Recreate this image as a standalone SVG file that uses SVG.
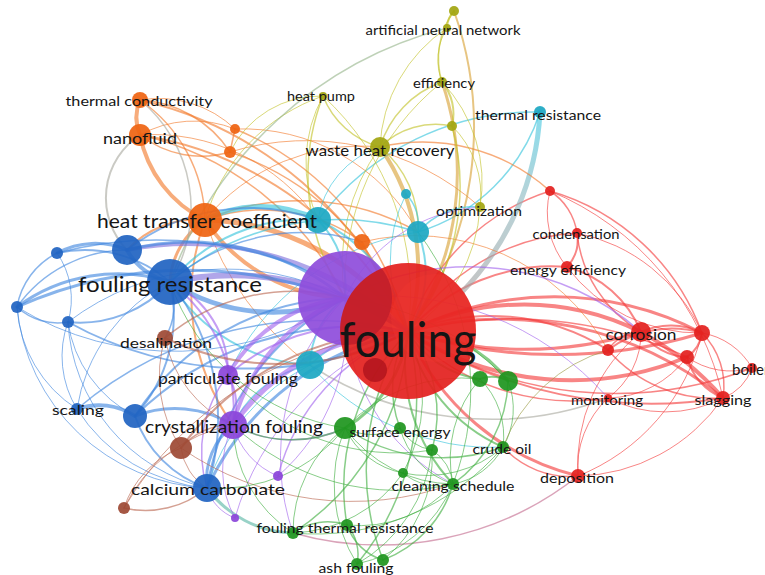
<svg xmlns="http://www.w3.org/2000/svg" width="765" height="575" viewBox="0 0 765 575">
<style>
#connectors path{fill:none;stroke-linecap:round;stroke-opacity:.62}
.r{stroke:#f43a3a}.b{stroke:#3f86de}.o{stroke:#f2792a}.p{stroke:#a263ee}.c{stroke:#33c3dc}.g{stroke:#3fae3f}.y{stroke:#c2c226}.br{stroke:#b9654f}.gr{stroke:#a9a9a0}.bp{stroke:#7f6fdc}.yo{stroke:#d9a135}.tl{stroke:#58b6a4}.pk{stroke:#c46a8e}.ol{stroke:#9a9a40}.gy{stroke:#96b48a}
text{font-family:Lato,"Open Sans","Liberation Sans",sans-serif;fill:#151515}
.nr{fill:#e3211f}.nb{fill:#2164c2}.no{fill:#ef6412}.np{fill:#8b46d9}.nc{fill:#1ea8c3}.ng{fill:#1f961f}.ny{fill:#a3a612}.nbr{fill:#9e4a36}
circle{fill-opacity:.93}
</style>
<defs>
<clipPath id="fclip"><circle cx="408" cy="331" r="68"/></clipPath>
<linearGradient id="trg" gradientUnits="userSpaceOnUse" x1="540" y1="112" x2="470" y2="290"><stop offset="0" stop-color="#3fc8e2"/><stop offset=".45" stop-color="#8bb8c0"/><stop offset="1" stop-color="#a0a0a0"/></linearGradient>
</defs>
<rect width="765" height="575" fill="#fff"/>
<g id="connectors">
<path class="r" stroke-width="4" d="M408 332A260 260 0 0 1 641 332"/>
<path class="r" stroke-width="3" d="M408 332A320 320 0 0 1 702 333"/>
<path class="r" stroke-width="4" d="M408 332A300 300 0 0 0 687 357"/>
<path class="r" stroke-width="3" d="M408 332A350 350 0 0 1 723 398"/>
<path class="r" stroke-width="3" d="M408 332A250 250 0 0 0 578 476"/>
<path class="r" stroke-width="2" d="M408 332A220 220 0 0 1 608 350"/>
<path class="r" stroke-width="1.5" d="M408 332A230 230 0 0 0 608 398"/>
<path class="r" stroke-width="2" d="M408 332A190 190 0 0 1 567 267"/>
<path class="r" stroke-width="1.5" d="M408 332A215 215 0 0 1 577 233"/>
<path class="r" stroke-width="1.5" d="M408 332A220 220 0 0 1 550 191"/>
<path class="r" stroke-width="1.5" d="M408 332A380 380 0 0 0 752 368"/>
<path class="r" stroke-width="3" d="M408 332A400 400 0 0 0 641 332"/>
<path class="r" stroke-width="3" d="M408 332A500 500 0 0 0 702 333"/>
<path class="r" stroke-width="2" d="M408 332A450 450 0 0 0 723 398"/>
<path class="r" stroke-width="1.5" d="M408 332A420 420 0 0 1 687 357"/>
<path class="r" stroke-width="1.5" d="M550 191A60 60 0 0 1 577 233"/>
<path class="r" stroke-width="2" d="M577 233A40 40 0 0 1 567 267"/>
<path class="r" stroke-width="1" d="M550 191A85 85 0 0 0 567 267"/>
<path class="r" stroke-width="1.5" d="M550 191A230 230 0 0 1 702 333"/>
<path class="r" stroke-width="1" d="M577 233A175 175 0 0 1 702 333"/>
<path class="r" stroke-width="1.5" d="M577 233A130 130 0 0 0 641 332"/>
<path class="r" stroke-width="2" d="M567 267A110 110 0 0 1 641 332"/>
<path class="r" stroke-width="1" d="M567 267A165 165 0 0 0 702 333"/>
<path class="r" stroke-width="1" d="M550 191A290 290 0 0 1 723 398"/>
<path class="r" stroke-width="2" d="M641 332A70 70 0 0 1 702 333"/>
<path class="r" stroke-width="4" d="M641 332A300 300 0 0 1 723 398"/>
<path class="r" stroke-width="2" d="M641 332A60 60 0 0 0 687 357"/>
<path class="r" stroke-width="2" d="M702 333A35 35 0 0 1 687 357"/>
<path class="r" stroke-width="1" d="M702 333A70 70 0 0 1 752 368"/>
<path class="r" stroke-width="1.5" d="M702 333A75 75 0 0 1 723 398"/>
<path class="r" stroke-width="2" d="M687 357A60 60 0 0 0 723 398"/>
<path class="r" stroke-width="1" d="M687 357A75 75 0 0 0 752 368"/>
<path class="r" stroke-width="1" d="M752 368A50 50 0 0 1 723 398"/>
<path class="r" stroke-width="2" d="M608 350A105 105 0 0 1 702 333"/>
<path class="r" stroke-width="1.5" d="M608 350A140 140 0 0 0 723 398"/>
<path class="r" stroke-width="1" d="M608 398A125 125 0 0 0 723 398"/>
<path class="r" stroke-width="1" d="M608 398A95 95 0 0 0 578 476"/>
<path class="r" stroke-width="1" d="M578 476A180 180 0 0 0 723 398"/>
<path class="r" stroke-width="1" d="M578 476A205 205 0 0 0 702 333"/>
<path class="r" stroke-width="1" d="M578 476A170 170 0 0 1 641 332"/>
<path class="r" stroke-width="1.5" d="M608 350A40 40 0 0 1 641 332"/>
<path class="r" stroke-width="1" d="M608 398A80 80 0 0 0 641 332"/>
<path class="r" stroke-width="1" d="M608 398A100 100 0 0 0 687 357"/>
<path class="r" stroke-width="1.5" d="M503 447A90 90 0 0 0 578 476"/>
<path stroke="url(#trg)" stroke-opacity=".8" stroke-width="5" d="M540 112A280 280 0 0 1 462 292"/>
<path class="c" stroke-width="1.5" d="M540 112A185 185 0 0 1 418 232"/>
<path class="c" stroke-width="1.5" d="M540 112A270 270 0 0 0 318 220"/>
<path class="gr" stroke-width="1.5" d="M310 365A330 330 0 0 0 608 398"/>
<path class="pk" stroke-width="1.5" d="M293 533A320 320 0 0 0 578 476"/>
<path class="o" stroke-width="4" d="M140 135A120 120 0 0 0 205 220"/>
<path class="o" stroke-width="1.5" d="M140 100A150 150 0 0 1 205 220"/>
<path class="o" stroke-width="4" d="M140 100A45 45 0 0 0 140 135"/>
<path class="o" stroke-width="1" d="M140 135A110 110 0 0 1 235 129"/>
<path class="o" stroke-width="1.5" d="M140 135A100 100 0 0 0 230 152"/>
<path class="o" stroke-width="1.5" d="M140 100A115 115 0 0 1 230 152"/>
<path class="o" stroke-width="1" d="M140 100A110 110 0 0 1 235 129"/>
<path class="o" stroke-width="5" d="M205 220A250 250 0 0 1 408 332"/>
<path class="o" stroke-width="3" d="M205 220A80 80 0 0 0 170 282"/>
<path class="o" stroke-width="4" d="M205 220A175 175 0 0 0 345 298"/>
<path class="o" stroke-width="1.5" d="M205 220A170 170 0 0 1 362 242"/>
<path class="o" stroke-width="2" d="M205 220A95 95 0 0 0 127 250"/>
<path class="o" stroke-width="2" d="M140 135A360 360 0 0 1 408 332"/>
<path class="o" stroke-width="2" d="M140 100A380 380 0 0 1 408 332"/>
<path class="o" stroke-width="1.5" d="M235 129A290 290 0 0 1 408 332"/>
<path class="o" stroke-width="1.5" d="M230 152A280 280 0 0 1 408 332"/>
<path class="o" stroke-width="1.5" d="M235 129L230 152"/>
<path class="o" stroke-width="2" d="M362 242L408 332"/>
<path class="o" stroke-width="2" d="M205 220A220 220 0 0 0 233 425"/>
<path class="o" stroke-width="1.5" d="M380 147A190 190 0 0 1 550 191"/>
<path class="o" stroke-width="1.5" d="M205 220A240 240 0 0 1 418 232"/>
<path class="o" stroke-width="1" d="M205 220A200 200 0 0 1 380 147"/>
<path class="o" stroke-width="1" d="M235 129A200 200 0 0 1 418 232"/>
<path class="o" stroke-width="1" d="M230 152A260 260 0 0 1 480 207"/>
<path class="o" stroke-width="1" d="M140 135A200 200 0 0 1 318 220"/>
<path class="o" stroke-width="1.5" d="M140 135A300 300 0 0 1 345 298"/>
<path class="o" stroke-width="1" d="M362 242A220 220 0 0 1 608 350"/>
<path class="o" stroke-width="1" d="M205 220A300 300 0 0 0 310 365"/>
<path class="gr" stroke-width="2" d="M140 135A75 75 0 0 0 127 250"/>
<path class="gr" stroke-width="1.5" d="M140 100A140 140 0 0 1 170 282"/>
<path class="y" stroke-width="1" d="M323 96A185 185 0 0 0 205 220"/>
<path class="y" stroke-width="1.5" d="M380 147A85 85 0 0 1 323 96"/>
<path class="y" stroke-width="1.5" d="M380 147A100 100 0 0 1 442 82"/>
<path class="y" stroke-width="1.5" d="M380 147A80 80 0 0 1 452 126"/>
<path class="yo" stroke-width="4" d="M380 147A210 210 0 0 1 408 332"/>
<path class="y" stroke-width="1.5" d="M380 147A105 105 0 0 1 418 232"/>
<path class="y" stroke-width="1" d="M323 96A270 270 0 0 1 408 332"/>
<path class="y" stroke-width="1.5" d="M323 96A220 220 0 0 0 345 298"/>
<path class="y" stroke-width="1" d="M323 96A140 140 0 0 0 318 220"/>
<path class="y" stroke-width="1" d="M323 96A100 100 0 0 0 230 152"/>
<path class="y" stroke-width="1.5" d="M442 82A80 80 0 0 1 454 11"/>
<path class="y" stroke-width="1" d="M442 82A60 60 0 0 1 447 28"/>
<path class="y" stroke-width="2" d="M454 11A25 25 0 0 0 447 28"/>
<path class="yo" stroke-width="3" d="M442 82A280 280 0 0 1 408 332"/>
<path class="yo" stroke-width="2" d="M454 11A350 350 0 0 1 408 332"/>
<path class="y" stroke-width="1.5" d="M452 126A230 230 0 0 1 408 332"/>
<path class="y" stroke-width="1" d="M452 126A95 95 0 0 1 480 207"/>
<path class="y" stroke-width="1" d="M442 82A145 145 0 0 1 480 207"/>
<path class="y" stroke-width="2" d="M442 82A50 50 0 0 1 452 126"/>
<path class="y" stroke-width="1" d="M442 82A260 260 0 0 0 345 298"/>
<path class="y" stroke-width="1" d="M480 207A160 160 0 0 1 408 332"/>
<path class="y" stroke-width="1" d="M380 147A200 200 0 0 0 345 298"/>
<path class="gy" stroke-width="1.5" d="M447 28A400 400 0 0 0 170 282"/>
<path class="y" stroke-width="1" d="M447 28A150 150 0 0 0 380 147"/>
<path class="c" stroke-width="2" d="M318 220A160 160 0 0 1 408 332"/>
<path class="c" stroke-width="5" d="M205 220A125 125 0 0 1 318 220"/>
<path class="c" stroke-width="2" d="M318 220A175 175 0 0 0 170 282"/>
<path class="c" stroke-width="2" d="M418 232A110 110 0 0 1 408 332"/>
<path class="c" stroke-width="1.5" d="M418 232A75 75 0 0 1 480 207"/>
<path class="c" stroke-width="1.5" d="M406 194A45 45 0 0 1 418 232"/>
<path class="c" stroke-width="1" d="M406 194A150 150 0 0 0 408 332"/>
<path class="c" stroke-width="2" d="M310 365A115 115 0 0 1 408 332"/>
<path class="c" stroke-width="2" d="M170 282A175 175 0 0 0 310 365"/>
<path class="c" stroke-width="2" d="M310 365A85 85 0 0 1 345 298"/>
<path class="c" stroke-width="1.5" d="M310 365A110 110 0 0 0 233 425"/>
<path class="c" stroke-width="2" d="M318 220A95 95 0 0 1 345 298"/>
<path class="c" stroke-width="1" d="M318 220A90 90 0 0 1 380 147"/>
<path class="c" stroke-width="1.5" d="M170 282A260 260 0 0 1 418 232"/>
<path class="c" stroke-width="1" d="M310 365A200 200 0 0 0 207 488"/>
<path class="c" stroke-width="1" d="M418 232A250 250 0 0 0 228 375"/>
<path class="c" stroke-width="1" d="M310 365A240 240 0 0 0 503 447"/>
<path class="tl" stroke-width="3" d="M207 488A110 110 0 0 0 293 533"/>
<path class="bp" stroke-width="6" d="M170 282A300 300 0 0 1 408 332"/>
<path class="b" stroke-width="5" d="M170 282A190 190 0 0 0 345 298"/>
<path class="b" stroke-width="4" d="M170 282A65 65 0 0 1 127 250"/>
<path class="b" stroke-width="2" d="M170 282A130 130 0 0 0 57 253"/>
<path class="b" stroke-width="3" d="M170 282A170 170 0 0 0 17 307"/>
<path class="b" stroke-width="2" d="M170 282A120 120 0 0 1 68 322"/>
<path class="b" stroke-width="1" d="M170 282A170 170 0 0 0 77 409"/>
<path class="b" stroke-width="2" d="M170 282A150 150 0 0 1 135 416"/>
<path class="b" stroke-width="2" d="M170 282A220 220 0 0 1 207 488"/>
<path class="b" stroke-width="1.5" d="M170 282A65 65 0 0 1 165 338"/>
<path class="b" stroke-width="3" d="M127 250A80 80 0 0 0 57 253"/>
<path class="b" stroke-width="1.5" d="M127 250A135 135 0 0 0 17 307"/>
<path class="bp" stroke-width="4" d="M127 250A320 320 0 0 1 408 332"/>
<path class="b" stroke-width="3" d="M127 250A245 245 0 0 1 345 298"/>
<path class="b" stroke-width="1.5" d="M17 307A60 60 0 0 0 68 322"/>
<path class="b" stroke-width="1" d="M17 307A130 130 0 0 0 77 409"/>
<path class="b" stroke-width="1" d="M68 322A100 100 0 0 0 77 409"/>
<path class="b" stroke-width="1" d="M68 322A125 125 0 0 0 135 416"/>
<path class="b" stroke-width="1.5" d="M57 253A75 75 0 0 0 17 307"/>
<path class="b" stroke-width="1" d="M57 253A80 80 0 0 1 68 322"/>
<path class="b" stroke-width="3" d="M17 307A420 420 0 0 1 408 332"/>
<path class="b" stroke-width="2" d="M68 322A370 370 0 0 0 408 332"/>
<path class="b" stroke-width="1.5" d="M57 253A390 390 0 0 1 408 332"/>
<path class="b" stroke-width="4" d="M77 409A65 65 0 0 1 135 416"/>
<path class="b" stroke-width="3" d="M135 416A110 110 0 0 1 233 425"/>
<path class="b" stroke-width="2" d="M135 416A115 115 0 0 0 207 488"/>
<path class="b" stroke-width="1" d="M77 409A170 170 0 0 0 207 488"/>
<path class="b" stroke-width="3" d="M207 488A70 70 0 0 1 233 425"/>
<path class="b" stroke-width="2" d="M207 488A260 260 0 0 1 345 298"/>
<path class="b" stroke-width="3" d="M207 488A280 280 0 0 1 408 332"/>
<path class="b" stroke-width="2" d="M135 416A310 310 0 0 1 408 332"/>
<path class="b" stroke-width="2" d="M135 416A255 255 0 0 1 345 298"/>
<path class="b" stroke-width="1.5" d="M77 409A370 370 0 0 1 408 332"/>
<path class="b" stroke-width="1" d="M17 307A200 200 0 0 0 207 488"/>
<path class="b" stroke-width="1" d="M68 322A180 180 0 0 0 207 488"/>
<path class="b" stroke-width="2" d="M127 250A200 200 0 0 1 318 220"/>
<path class="b" stroke-width="1.5" d="M170 282A200 200 0 0 1 362 242"/>
<path class="b" stroke-width="1" d="M17 307A300 300 0 0 0 345 298"/>
<path class="b" stroke-width="1" d="M68 322A260 260 0 0 1 345 298"/>
<path class="p" stroke-width="4" d="M228 375A155 155 0 0 1 345 298"/>
<path class="p" stroke-width="2" d="M228 375A200 200 0 0 1 408 332"/>
<path class="p" stroke-width="5" d="M233 425A220 220 0 0 1 408 332"/>
<path class="p" stroke-width="4" d="M233 425A185 185 0 0 1 345 298"/>
<path class="p" stroke-width="2" d="M228 375A60 60 0 0 1 233 425"/>
<path class="p" stroke-width="1.5" d="M278 476A210 210 0 0 1 408 332"/>
<path class="p" stroke-width="1" d="M278 476A75 75 0 0 1 233 425"/>
<path class="p" stroke-width="1" d="M278 476A200 200 0 0 0 345 298"/>
<path class="p" stroke-width="1" d="M235 518A100 100 0 0 1 233 425"/>
<path class="p" stroke-width="1" d="M235 518A280 280 0 0 1 408 332"/>
<path class="p" stroke-width="1" d="M235 518A45 45 0 0 1 207 488"/>
<path class="p" stroke-width="1.5" d="M228 375A125 125 0 0 0 207 488"/>
<path class="p" stroke-width="1.5" d="M233 425A125 125 0 0 0 345 428"/>
<path class="p" stroke-width="2" d="M228 375A100 100 0 0 0 170 282"/>
<path class="p" stroke-width="2" d="M233 425A160 160 0 0 0 170 282"/>
<path class="p" stroke-width="1.5" d="M345 298A260 260 0 0 1 641 332"/>
<path class="p" stroke-width="1" d="M345 298A200 200 0 0 0 453 484"/>
<path class="p" stroke-width="1" d="M345 298A230 230 0 0 0 293 533"/>
<path class="p" stroke-width="1" d="M345 298A160 160 0 0 1 480 207"/>
<path class="p" stroke-width="1" d="M345 298A300 300 0 0 1 608 398"/>
<path class="br" stroke-width="2" d="M165 338A270 270 0 0 0 408 332"/>
<path class="br" stroke-width="2" d="M181 448A280 280 0 0 1 408 332"/>
<path class="br" stroke-width="1" d="M181 448A95 95 0 0 0 124 508"/>
<path class="br" stroke-width="1.5" d="M124 508A95 95 0 0 0 207 488"/>
<path class="br" stroke-width="1" d="M124 508A360 360 0 0 1 408 332"/>
<path class="br" stroke-width="1.5" d="M181 448A65 65 0 0 1 233 425"/>
<path class="br" stroke-width="1" d="M181 448A55 55 0 0 0 207 488"/>
<path class="br" stroke-width="1" d="M124 508A150 150 0 0 1 233 425"/>
<path class="br" stroke-width="1" d="M165 338A120 120 0 0 0 233 425"/>
<path class="br" stroke-width="1.5" d="M165 338A200 200 0 0 1 345 298"/>
<path class="br" stroke-width="1" d="M181 448A130 130 0 0 1 165 338"/>
<path class="br" stroke-width="1" d="M181 448A300 300 0 0 0 453 484"/>
<path class="g" stroke-width="3" d="M345 428A130 130 0 0 0 408 332"/>
<path class="g" stroke-width="2" d="M480 379A100 100 0 0 1 408 332"/>
<path class="g" stroke-width="3" d="M508 381A120 120 0 0 0 408 332"/>
<path class="g" stroke-width="1.5" d="M400 428A110 110 0 0 1 408 332"/>
<path class="g" stroke-width="1.5" d="M432 450A130 130 0 0 0 408 332"/>
<path class="g" stroke-width="2" d="M503 447A165 165 0 0 1 408 332"/>
<path class="g" stroke-width="1" d="M403 473A155 155 0 0 0 408 332"/>
<path class="g" stroke-width="2" d="M453 484A175 175 0 0 1 408 332"/>
<path class="g" stroke-width="1.5" d="M293 533A255 255 0 0 0 408 332"/>
<path class="g" stroke-width="1.5" d="M347 525A220 220 0 0 1 408 332"/>
<path class="g" stroke-width="1.5" d="M357 564A260 260 0 0 0 408 332"/>
<path class="g" stroke-width="1.5" d="M383 560A250 250 0 0 1 408 332"/>
<path class="g" stroke-width="1" d="M345 428A80 80 0 0 0 403 473"/>
<path class="g" stroke-width="1" d="M345 428A135 135 0 0 0 453 484"/>
<path class="g" stroke-width="1" d="M432 450A45 45 0 0 1 453 484"/>
<path class="g" stroke-width="1" d="M503 447A70 70 0 0 1 453 484"/>
<path class="g" stroke-width="1.5" d="M293 533A60 60 0 0 1 347 525"/>
<path class="g" stroke-width="1.5" d="M347 525A45 45 0 0 1 357 564"/>
<path class="g" stroke-width="1.5" d="M347 525A55 55 0 0 0 383 560"/>
<path class="g" stroke-width="1.5" d="M383 560A115 115 0 0 0 453 484"/>
<path class="g" stroke-width="1" d="M357 564A150 150 0 0 1 345 428"/>
<path class="g" stroke-width="1" d="M403 473A55 55 0 0 0 453 484"/>
<path class="g" stroke-width="1" d="M503 447A75 75 0 0 0 508 381"/>
<path class="g" stroke-width="1.5" d="M453 484A130 130 0 0 0 508 381"/>
<path class="g" stroke-width="1.5" d="M345 428A175 175 0 0 0 503 447"/>
<path class="g" stroke-width="1" d="M400 428A45 45 0 0 0 432 450"/>
<path class="g" stroke-width="1" d="M345 428A160 160 0 0 1 480 379"/>
<path class="g" stroke-width="2" d="M480 379A35 35 0 0 1 508 381"/>
<path class="g" stroke-width="1" d="M293 533A130 130 0 0 1 345 428"/>
<path class="g" stroke-width="1" d="M403 473A140 140 0 0 1 293 533"/>
<path class="g" stroke-width="1" d="M357 564A150 150 0 0 0 432 450"/>
<path class="g" stroke-width="1" d="M383 560A130 130 0 0 0 432 450"/>
<path class="g" stroke-width="1" d="M347 525A125 125 0 0 0 453 484"/>
<path class="g" stroke-width="1" d="M357 564A135 135 0 0 0 453 484"/>
<path class="g" stroke-width="1" d="M345 428A60 60 0 0 0 400 428"/>
<path class="g" stroke-width="1" d="M503 447A80 80 0 0 0 480 379"/>
<path class="g" stroke-width="1" d="M403 473A115 115 0 0 0 503 447"/>
<path class="g" stroke-width="1" d="M345 428A160 160 0 0 1 207 488"/>
<path class="g" stroke-width="1" d="M293 533A245 245 0 0 0 503 447"/>
<path class="g" stroke-width="1" d="M453 484A120 120 0 0 1 480 379"/>
<path class="g" stroke-width="1" d="M400 428A80 80 0 0 0 453 484"/>
<path class="g" stroke-width="1.5" d="M345 428A125 125 0 0 1 233 425"/>
<path class="ol" stroke-width="1" d="M503 447A160 160 0 0 1 608 350"/>
<path class="g" stroke-width="1" d="M345 428A220 220 0 0 1 170 282"/>
<path class="g" stroke-width="1" d="M453 484A240 240 0 0 1 233 425"/>
<path class="g" stroke-width="1" d="M293 533A130 130 0 0 1 233 425"/>
<path class="g" stroke-width="1" d="M432 450A220 220 0 0 1 228 375"/>
<path class="g" stroke-width="1" d="M508 381A260 260 0 0 0 345 298"/>
<path class="g" stroke-width="1" d="M453 484A260 260 0 0 0 418 232"/>
</g>
<g id="n-small">
<circle class="nr" cx="550" cy="191" r="5"/>
<circle class="nr" cx="608" cy="350" r="6"/>
<circle class="nr" cx="702" cy="333" r="8"/>
<circle class="nr" cx="687" cy="357" r="7"/>
<circle class="nb" cx="127" cy="250" r="15"/>
<circle class="nb" cx="57" cy="253" r="6"/>
<circle class="nb" cx="17" cy="307" r="6"/>
<circle class="nb" cx="68" cy="322" r="6"/>
<circle class="nb" cx="135" cy="416" r="12"/>
<circle class="no" cx="235" cy="129" r="5"/>
<circle class="no" cx="230" cy="152" r="6"/>
<circle class="no" cx="362" cy="242" r="8"/>
<circle class="nc" cx="318" cy="220" r="13"/>
<circle class="nc" cx="418" cy="232" r="11"/>
<circle class="nc" cx="406" cy="194" r="5"/>
<circle class="ny" cx="454" cy="11" r="5"/>
<circle class="ny" cx="452" cy="126" r="5"/>
<circle class="ng" cx="480" cy="379" r="8"/>
<circle class="ng" cx="508" cy="381" r="10"/>
<circle class="ng" cx="400" cy="428" r="6"/>
<circle class="ng" cx="432" cy="450" r="6"/>
<circle class="ng" cx="403" cy="473" r="5"/>
<circle class="ng" cx="347" cy="525" r="6"/>
<circle class="ng" cx="383" cy="560" r="6"/>
<circle class="nbr" cx="181" cy="448" r="11"/>
<circle class="nbr" cx="124" cy="508" r="6"/>
<circle class="np" cx="278" cy="476" r="5"/>
<circle class="np" cx="235" cy="518" r="4"/>
</g>
<g id="n-purple-hub">
<circle cx="345" cy="298" r="47" fill="#8f4ddc" fill-opacity=".85"/>
</g>
<g id="n-fouling">
<circle class="nr" cx="408" cy="331" r="68" fill-opacity=".88"/>
<circle cx="345" cy="298" r="47" fill="#5a0a28" opacity=".2" clip-path="url(#fclip)"/>
<circle cx="435" cy="318" r="44" fill="#f53a34" opacity=".3" clip-path="url(#fclip)"/>
<circle cx="375" cy="370" r="12" fill="#a80e1a" opacity=".75"/>
<text x="408" y="357" font-size="48" text-anchor="middle" textLength="137" lengthAdjust="spacingAndGlyphs">fouling</text>
</g>
<g id="n-cyan-lower"><circle class="nc" cx="310" cy="365" r="14"/></g>
<g id="n-heat-transfer-coefficient"><circle class="no" cx="205" cy="220" r="17"/><text x="207" y="228" font-size="19" text-anchor="middle" textLength="220" lengthAdjust="spacingAndGlyphs">heat transfer coefficient</text></g>
<g id="n-fouling-resistance"><circle class="nb" cx="170" cy="282" r="23"/><text x="170" y="292" font-size="21" text-anchor="middle" textLength="184" lengthAdjust="spacingAndGlyphs">fouling resistance</text></g>
<g id="n-waste-heat-recovery"><circle class="ny" cx="380" cy="147" r="10"/><text x="380" y="156" font-size="15" text-anchor="middle" textLength="149" lengthAdjust="spacingAndGlyphs">waste heat recovery</text></g>
<g id="n-thermal-conductivity"><circle class="no" cx="140" cy="100" r="8"/><text x="139" y="106" font-size="14" text-anchor="middle" textLength="147" lengthAdjust="spacingAndGlyphs">thermal conductivity</text></g>
<g id="n-nanofluid"><circle class="no" cx="140" cy="135" r="11"/><text x="140" y="144" font-size="16" text-anchor="middle" textLength="74" lengthAdjust="spacingAndGlyphs">nanofluid</text></g>
<g id="n-heat-pump"><circle class="ny" cx="323" cy="96" r="4"/><text x="321" y="101" font-size="12.5" text-anchor="middle" textLength="68" lengthAdjust="spacingAndGlyphs">heat pump</text></g>
<g id="n-artificial-neural-network"><circle class="ny" cx="447" cy="28" r="4"/><text x="443" y="35" font-size="13" text-anchor="middle" textLength="155" lengthAdjust="spacingAndGlyphs">artificial neural network</text></g>
<g id="n-efficiency"><circle class="ny" cx="442" cy="82" r="5"/><text x="444" y="88" font-size="13" text-anchor="middle" textLength="62" lengthAdjust="spacingAndGlyphs">efficiency</text></g>
<g id="n-thermal-resistance"><circle class="nc" cx="540" cy="112" r="6"/><text x="538" y="120" font-size="14" text-anchor="middle" textLength="126" lengthAdjust="spacingAndGlyphs">thermal resistance</text></g>
<g id="n-optimization"><circle class="ny" cx="480" cy="207" r="5"/><text x="479" y="216" font-size="14" text-anchor="middle" textLength="86" lengthAdjust="spacingAndGlyphs">optimization</text></g>
<g id="n-condensation"><circle class="nr" cx="577" cy="233" r="5"/><text x="576" y="239" font-size="13" text-anchor="middle" textLength="87" lengthAdjust="spacingAndGlyphs">condensation</text></g>
<g id="n-energy-efficiency"><circle class="nr" cx="567" cy="267" r="6"/><text x="568" y="275" font-size="14" text-anchor="middle" textLength="116" lengthAdjust="spacingAndGlyphs">energy efficiency</text></g>
<g id="n-corrosion"><circle class="nr" cx="641" cy="332" r="10"/><text x="641" y="340" font-size="15" text-anchor="middle" textLength="71" lengthAdjust="spacingAndGlyphs">corrosion</text></g>
<g id="n-boiler"><circle class="nr" cx="752" cy="368" r="5"/><text x="732" y="375" font-size="15">boiler</text></g>
<g id="n-monitoring"><circle class="nr" cx="608" cy="398" r="4" fill-opacity=".6"/><text x="607" y="405" font-size="13" text-anchor="middle" textLength="72" lengthAdjust="spacingAndGlyphs">monitoring</text></g>
<g id="n-slagging"><circle class="nr" cx="723" cy="398" r="7"/><text x="723" y="405" font-size="14" text-anchor="middle" textLength="57" lengthAdjust="spacingAndGlyphs">slagging</text></g>
<g id="n-deposition"><circle class="nr" cx="578" cy="476" r="7"/><text x="577" y="483" font-size="14" text-anchor="middle" textLength="74" lengthAdjust="spacingAndGlyphs">deposition</text></g>
<g id="n-crude-oil"><circle class="ng" cx="503" cy="447" r="6"/><text x="502" y="454" font-size="14" text-anchor="middle" textLength="59" lengthAdjust="spacingAndGlyphs">crude oil</text></g>
<g id="n-cleaning-schedule"><circle class="ng" cx="453" cy="484" r="6"/><text x="453" y="491" font-size="14" text-anchor="middle" textLength="123" lengthAdjust="spacingAndGlyphs">cleaning schedule</text></g>
<g id="n-surface-energy"><circle class="ng" cx="345" cy="428" r="11"/><text x="400" y="437" font-size="13.5" text-anchor="middle" textLength="101" lengthAdjust="spacingAndGlyphs">surface energy</text></g>
<g id="n-fouling-thermal-resistance"><circle class="ng" cx="293" cy="533" r="6"/><text x="345" y="533" font-size="13.5" text-anchor="middle" textLength="177" lengthAdjust="spacingAndGlyphs">fouling thermal resistance</text></g>
<g id="n-ash-fouling"><circle class="ng" cx="357" cy="564" r="6"/><text x="356" y="573" font-size="13" text-anchor="middle" textLength="75" lengthAdjust="spacingAndGlyphs">ash fouling</text></g>
<g id="n-particulate-fouling"><circle class="np" cx="228" cy="375" r="10"/><text x="228" y="384" font-size="14.5" text-anchor="middle" textLength="140" lengthAdjust="spacingAndGlyphs">particulate fouling</text></g>
<g id="n-crystallization-fouling"><circle class="np" cx="233" cy="425" r="14"/><text x="234" y="433" font-size="16.5" text-anchor="middle" textLength="178" lengthAdjust="spacingAndGlyphs">crystallization fouling</text></g>
<g id="n-calcium-carbonate"><circle class="nb" cx="207" cy="488" r="14"/><text x="208" y="495" font-size="16" text-anchor="middle" textLength="154" lengthAdjust="spacingAndGlyphs">calcium carbonate</text></g>
<g id="n-scaling"><circle class="nb" cx="77" cy="409" r="6"/><text x="78" y="415" font-size="14" text-anchor="middle" textLength="52" lengthAdjust="spacingAndGlyphs">scaling</text></g>
<g id="n-desalination"><circle class="nbr" cx="165" cy="338" r="8"/><text x="166" y="348" font-size="14" text-anchor="middle" textLength="92" lengthAdjust="spacingAndGlyphs">desalination</text></g>
</svg>
